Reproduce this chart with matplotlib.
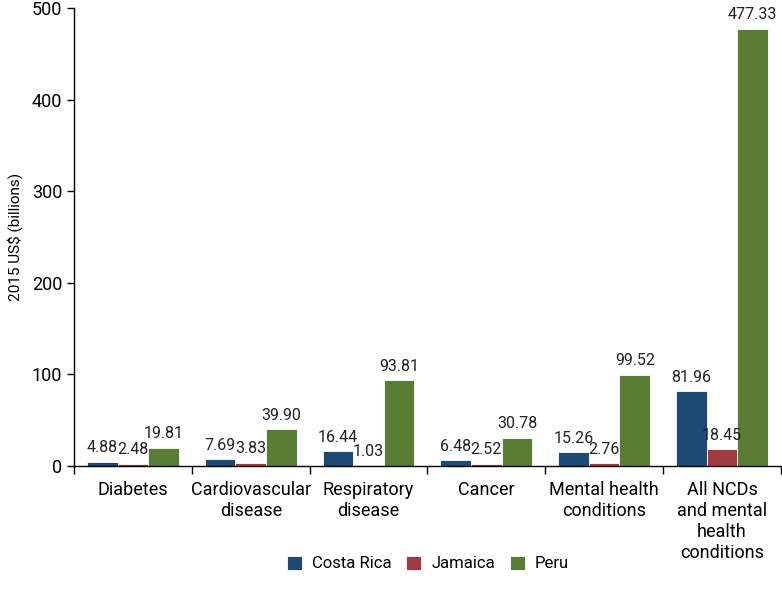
import matplotlib.pyplot as plt
import numpy as np

plt.rcParams['font.family'] = ['Liberation Sans Narrow', 'Roboto', 'DejaVu Sans']

# categories and values (2015 US$ billions)
categories = ["Diabetes", "Cardiovascular\ndisease", "Respiratory\ndisease", "Cancer",
              "Mental health\nconditions", "All NCDs\nand mental\nhealth\nconditions"]
costa_rica = [4.88, 7.69, 16.44, 6.48, 15.26, 81.96]
jamaica = [2.48, 3.83, 1.03, 2.52, 2.76, 18.45]
peru = [19.81, 39.90, 93.81, 30.78, 99.52, 477.33]

series = [("Costa Rica", costa_rica, "#1c4a72"),
          ("Jamaica", jamaica, "#a13a40"),
          ("Peru", peru, "#5a7d35")]

fig = plt.figure(figsize=(7.82, 5.97), dpi=100)
ax = fig.add_axes([0.0946, 0.2194, 0.904, 0.7672])

x = np.arange(len(categories))
w = 0.26
for i, (name, vals, color) in enumerate(series):
    pos = x + (i - 1) * w
    bars = ax.bar(pos, vals, width=w, color=color, edgecolor="white", linewidth=0.6, label=name)
    for b, v in zip(bars, vals):
        ax.text(b.get_x() + b.get_width() / 2, v + 7, f"{v:.2f}",
                ha="center", va="bottom", fontsize=11.5, color="#222222")

ax.set_xlim(-0.5, len(categories) - 0.5)
ax.set_ylim(0, 500)
ax.set_yticks([0, 100, 200, 300, 400, 500])
ax.set_ylabel("2015 US$ (billions)", fontsize=11, labelpad=6)

# category labels without ticks, boundary ticks below the axis
ax.set_xticks(x)
ax.set_xticklabels(categories, fontsize=13, linespacing=1.2)
ax.tick_params(axis="x", which="major", length=0, pad=11)
ax.set_xticks(np.arange(-0.5, len(categories)), minor=True)
ax.tick_params(axis="x", which="minor", length=6, width=1, direction="out")
ax.tick_params(axis="y", labelsize=13, length=5, width=1, direction="out")

for s in ["top", "right"]:
    ax.spines[s].set_visible(False)
ax.spines["left"].set_linewidth(1)
ax.spines["bottom"].set_linewidth(1)

fig.legend(loc="center", bbox_to_anchor=(0.547, 0.056), ncol=3, frameon=False,
           fontsize=12, handlelength=0.9, handleheight=0.9, columnspacing=0.9,
           handletextpad=0.6)

fig.savefig("out.png", dpi=100)
